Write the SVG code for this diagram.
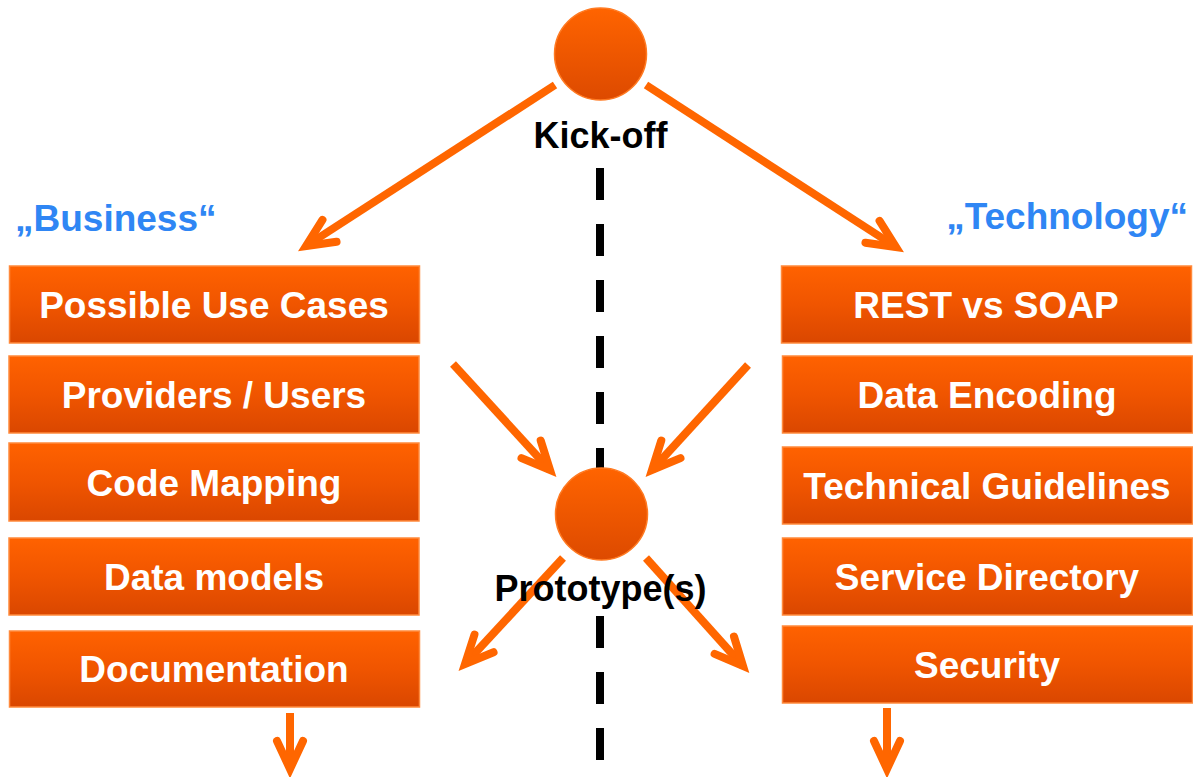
<svg xmlns="http://www.w3.org/2000/svg" width="1193" height="777" viewBox="0 0 1193 777">
<defs>
<linearGradient id="boxg" x1="0" y1="0" x2="0" y2="1">
<stop offset="0" stop-color="#FF6200"/>
<stop offset="0.5" stop-color="#F05500"/>
<stop offset="1" stop-color="#DA4700"/>
</linearGradient>
<linearGradient id="circg" x1="0" y1="0" x2="0" y2="1">
<stop offset="0" stop-color="#FF6400"/>
<stop offset="1" stop-color="#DD4A00"/>
</linearGradient>
<marker id="head" markerUnits="userSpaceOnUse" markerWidth="80" markerHeight="80" viewBox="-40 -40 80 80" refX="0" refY="0" orient="auto" overflow="visible">
<path d="M -28 -13 L 0 0 L -28 13" fill="none" stroke="#FF6600" stroke-width="8" stroke-linecap="round" stroke-linejoin="miter" stroke-miterlimit="10"/>
</marker>
</defs>
<style>
.box{fill:url(#boxg);stroke:#FF8A3D;stroke-width:1.5}
.bt{font-family:"Liberation Sans",Arial,Helvetica,sans-serif;font-weight:bold;font-size:37px;fill:#FFFFFF;text-anchor:middle}
.circ{fill:url(#circg);stroke:#FF7A22;stroke-width:1.5}
.lbl{font-family:"Liberation Sans",Arial,Helvetica,sans-serif;font-weight:bold;font-size:36px;fill:#000000;text-anchor:middle}
.hdr{font-family:"Liberation Sans",Arial,Helvetica,sans-serif;font-weight:bold;font-size:37px;fill:#2F86F4}
.arr{fill:none;stroke:#FF6600;stroke-width:8;marker-end:url(#head)}
.dash{stroke:#000000;stroke-width:8;stroke-dasharray:32 24;fill:none}
</style>
<rect x="0" y="0" width="1193" height="777" fill="#FFFFFF"/>

<g id="divider">
<line class="dash" x1="600" y1="168" x2="600" y2="470"/>
<line class="dash" x1="600" y1="616" x2="600" y2="760"/>
</g>

<g id="headers">
<text class="hdr" x="15" y="231">„Business“</text>
<text class="hdr" x="1188" y="229" text-anchor="end">„Technology“</text>
</g>

<g id="connectors">
<line class="arr" x1="555" y1="85" x2="306" y2="246"/>
<line class="arr" x1="646" y1="85" x2="896" y2="247"/>
<line class="arr" x1="453" y1="364" x2="550" y2="470"/>
<line class="arr" x1="748" y1="365" x2="652" y2="470"/>
<line class="arr" x1="563" y1="558" x2="465" y2="664"/>
<line class="arr" x1="646" y1="558" x2="743" y2="666"/>
<line class="arr" x1="290" y1="713" x2="290" y2="769"/>
<line class="arr" x1="887" y1="708" x2="887" y2="769"/>
</g>

<g id="kickoff">
<circle class="circ" cx="600.5" cy="54" r="46"/>
<text class="lbl" x="600.5" y="148">Kick-off</text>
</g>

<g id="prototype">
<circle class="circ" cx="601.5" cy="514" r="46"/>
<text class="lbl" x="600.5" y="601">Prototype(s)</text>
</g>

<g id="b1"><rect class="box" x="9.5" y="266" width="410" height="77"/><text class="bt" x="214" y="318">Possible Use Cases</text></g>
<g id="b2"><rect class="box" x="9" y="356" width="410" height="77"/><text class="bt" x="214" y="408">Providers / Users</text></g>
<g id="b3"><rect class="box" x="9" y="443" width="410" height="78"/><text class="bt" x="214" y="496">Code Mapping</text></g>
<g id="b4"><rect class="box" x="9" y="538" width="410" height="77"/><text class="bt" x="214" y="590">Data models</text></g>
<g id="b5"><rect class="box" x="9.5" y="631" width="410" height="76"/><text class="bt" x="214" y="682">Documentation</text></g>

<g id="t1"><rect class="box" x="781.5" y="266" width="410" height="77"/><text class="bt" x="986" y="318">REST vs SOAP</text></g>
<g id="t2"><rect class="box" x="782.5" y="356" width="410" height="77"/><text class="bt" x="987" y="408">Data Encoding</text></g>
<g id="t3"><rect class="box" x="782.5" y="447" width="410" height="77"/><text class="bt" x="987" y="499">Technical Guidelines</text></g>
<g id="t4"><rect class="box" x="782.5" y="538" width="410" height="77"/><text class="bt" x="987" y="590">Service Directory</text></g>
<g id="t5"><rect class="box" x="782.5" y="626" width="410" height="77"/><text class="bt" x="987" y="678">Security</text></g>
</svg>
